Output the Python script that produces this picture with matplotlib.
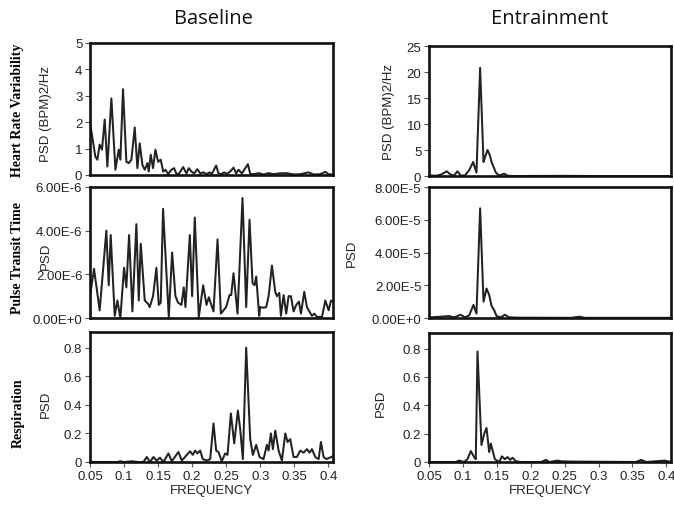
import matplotlib.pyplot as plt
from matplotlib.ticker import FuncFormatter

# ---- Baseline: heart rate variability, PSD (BPM)2/Hz
base_hrv_f = [0.0500, 0.0578, 0.0608, 0.0642, 0.0676, 0.0716, 0.0755, 0.0814, 0.0873, 0.0922,
              0.0946, 0.0985, 0.1034, 0.1069, 0.1108, 0.1157, 0.1196, 0.1230, 0.1270, 0.1304,
              0.1343, 0.1363, 0.1392, 0.1426, 0.1461, 0.1500, 0.1539, 0.1574, 0.1608, 0.1647,
              0.1696, 0.1735, 0.1770, 0.1804, 0.1868, 0.1917, 0.1951, 0.1990, 0.2029, 0.2078,
              0.2118, 0.2167, 0.2216, 0.2255, 0.2289, 0.2353, 0.2387, 0.2422, 0.2471, 0.2510,
              0.2559, 0.2608, 0.2647, 0.2682, 0.2730, 0.2819, 0.2853, 0.2902, 0.2976, 0.3049,
              0.3123, 0.3196, 0.3270, 0.3392, 0.3490, 0.3588, 0.3711, 0.3784, 0.3882, 0.3956,
              0.4005, 0.4069]
base_hrv = [2.0, 0.7, 0.58, 1.15, 0.96, 2.1, 0.32, 2.9, 0.2, 0.96,
            0.58, 3.25, 0.5, 0.45, 0.58, 1.8, 0.26, 1.2, 0.38, 0.2,
            0.45, 0.13, 0.77, 0.26, 0.96, 0.5, 0.58, 0.13, 0.2, 0.04,
            0.2, 0.26, 0.04, 0.04, 0.3, 0.06, 0.26, 0.13, 0.06, 0.22,
            0.06, 0.1, 0.03, 0.1, 0.04, 0.36, 0.06, 0.03, 0.1, 0.04,
            0.13, 0.28, 0.06, 0.2, 0.06, 0.41, 0.04, 0.03, 0.07, 0.02,
            0.07, 0.03, 0.06, 0.07, 0.02, 0.03, 0.1, 0.02, 0.03, 0.12,
            0.03, 0.02]

# ---- Baseline: pulse transit time, PSD in units of 1E-6
base_ptt_f = [0.0500, 0.0559, 0.0642, 0.0740, 0.0775, 0.0804, 0.0863, 0.0902, 0.0946, 0.1000,
              0.1034, 0.1074, 0.1123, 0.1181, 0.1216, 0.1245, 0.1304, 0.1353, 0.1377, 0.1426,
              0.1475, 0.1510, 0.1539, 0.1573, 0.1657, 0.1706, 0.1755, 0.1794, 0.1843, 0.1877,
              0.1902, 0.1966, 0.2000, 0.2039, 0.2098, 0.2162, 0.2211, 0.2245, 0.2314, 0.2373,
              0.2422, 0.2461, 0.2500, 0.2549, 0.2574, 0.2608, 0.2667, 0.2740, 0.2794, 0.2843,
              0.2887, 0.2917, 0.2941, 0.2985, 0.3000, 0.3049, 0.3088, 0.3123, 0.3172, 0.3221,
              0.3245, 0.3280, 0.3304, 0.3343, 0.3382, 0.3417, 0.3451, 0.3490, 0.3529, 0.3569,
              0.3598, 0.3647, 0.3686, 0.3721, 0.3760, 0.3794, 0.3833, 0.3882, 0.3907, 0.3956,
              0.4005, 0.4039, 0.4069]
base_ptt = [1.0, 2.25, 0.35, 4.0, 1.5, 3.8, 0.1, 0.8, 0.0, 2.3,
            1.4, 3.8, 0.3, 4.3, 0.8, 3.4, 0.8, 0.65, 0.5, 1.0,
            2.3, 0.6, 0.7, 5.0, 0.05, 3.0, 1.0, 0.7, 0.6, 1.4,
            0.5, 3.8, 1.0, 4.6, 0.05, 1.5, 0.6, 0.95, 0.3, 3.6,
            0.2, 0.35, 0.5, 1.05, 1.05, 2.05, 0.2, 5.5, 0.5, 4.5,
            1.6, 1.5, 1.9, 0.1, 0.5, 0.47, 0.5, 1.0, 2.4, 1.2,
            1.0, 1.15, 0.1, 1.05, 0.2, 1.0, 1.0, 0.3, 0.6, 0.75,
            0.2, 1.2, 0.5, 0.3, 0.1, 0.2, 0.05, 0.05, 0.05, 0.8,
            0.35, 0.8, 0.75]

# ---- Baseline: respiration, PSD
base_resp_f = [0.0500, 0.0900, 0.0941, 0.1000, 0.1113, 0.1200, 0.1284, 0.1333, 0.1382, 0.1431,
               0.1480, 0.1529, 0.1578, 0.1652, 0.1701, 0.1799, 0.1848, 0.1922, 0.1971, 0.2010,
               0.2044, 0.2078, 0.2118, 0.2157, 0.2216, 0.2265, 0.2314, 0.2353, 0.2387, 0.2436,
               0.2485, 0.2520, 0.2569, 0.2618, 0.2672, 0.2706, 0.2745, 0.2794, 0.2853, 0.2892,
               0.2941, 0.2990, 0.3049, 0.3098, 0.3123, 0.3157, 0.3186, 0.3221, 0.3270, 0.3319,
               0.3368, 0.3402, 0.3441, 0.3490, 0.3539, 0.3588, 0.3637, 0.3686, 0.3725, 0.3760,
               0.3809, 0.3858, 0.3892, 0.3931, 0.3971, 0.4069]
base_resp = [0.0, 0.0, 0.005, 0.0, 0.005, 0.0, 0.0, 0.035, 0.0, 0.035,
             0.01, 0.03, 0.0, 0.06, 0.005, 0.07, 0.01, 0.05, 0.075, 0.05,
             0.08, 0.06, 0.08, 0.02, 0.01, 0.02, 0.27, 0.08, 0.07, 0.005,
             0.06, 0.05, 0.34, 0.13, 0.36, 0.23, 0.02, 0.8, 0.16, 0.05,
             0.12, 0.035, 0.02, 0.12, 0.08, 0.2, 0.09, 0.22, 0.08, 0.01,
             0.2, 0.14, 0.16, 0.035, 0.035, 0.08, 0.065, 0.09, 0.065, 0.09,
             0.035, 0.02, 0.14, 0.035, 0.02, 0.04]

# ---- Entrainment: heart rate variability
ent_hrv_f = [0.0500, 0.0525, 0.0600, 0.0673, 0.0761, 0.0821, 0.0870, 0.0919, 0.0968, 0.1028,
             0.1092, 0.1151, 0.1200, 0.1254, 0.1304, 0.1328, 0.1363, 0.1397, 0.1422, 0.1452,
             0.1486, 0.1536, 0.1609, 0.1659, 0.1757, 0.2500, 0.3000, 0.4069]
ent_hrv = [0.05, 0.1, 0.05, 0.25, 0.9, 0.25, 0.1, 0.9, 0.1, 0.1,
           1.1, 2.7, 0.65, 20.8, 2.7, 3.7, 5.0, 4.0, 2.7, 1.75,
           0.65, 0.1, 0.45, 0.05, 0.0, 0.03, 0.0, 0.0]

# ---- Entrainment: pulse transit time, PSD in units of 1E-5
ent_ptt_f = [0.0500, 0.0525, 0.0673, 0.0796, 0.0870, 0.0968, 0.1028, 0.1092, 0.1156, 0.1200,
             0.1254, 0.1304, 0.1348, 0.1388, 0.1422, 0.1462, 0.1496, 0.1560, 0.1619, 0.1683,
             0.1807, 0.2600, 0.2719, 0.2800, 0.4069]
ent_ptt = [0.02, 0.04, 0.08, 0.12, 0.04, 0.2, 0.04, 0.16, 0.8, 0.27,
           6.7, 1.0, 1.8, 1.4, 0.75, 0.47, 0.12, 0.04, 0.2, 0.04,
           0.02, 0.01, 0.08, 0.01, 0.01]

# ---- Entrainment: respiration
ent_resp_f = [0.0500, 0.0894, 0.0944, 0.1018, 0.1067, 0.1116, 0.1166, 0.1190, 0.1215, 0.1274,
              0.1314, 0.1348, 0.1388, 0.1412, 0.1471, 0.1536, 0.1575, 0.1619, 0.1659, 0.1698,
              0.1733, 0.1782, 0.1856, 0.2152, 0.2226, 0.2275, 0.2398, 0.2448, 0.2596, 0.3550,
              0.3631, 0.3700, 0.3976, 0.4069]
ent_resp = [0.0, 0.0, 0.01, 0.0, 0.02, 0.077, 0.035, 0.02, 0.78, 0.12,
            0.2, 0.24, 0.07, 0.13, 0.02, 0.0, 0.04, 0.02, 0.035, 0.015,
            0.03, 0.005, 0.0, 0.0, 0.015, 0.0, 0.01, 0.005, 0.003, 0.0,
            0.015, 0.0, 0.01, 0.0]

freq_ticks = [0.05, 0.1, 0.15, 0.2, 0.25, 0.3, 0.35, 0.4]
freq_labels = ['0.05', '0.1', '0.15', '0.2', '0.25', '0.3', '0.35', '0.4']
row_names = ['Heart Rate Variability', 'Pulse Transit Time', 'Respiration']

plt.rcParams['font.family'] = ['Liberation Sans', 'DejaVu Sans']

fig = plt.figure(figsize=(6.74, 5.10), dpi=100)

W, H = 674.0, 510.0
cols = [(90, 333), (429, 671)]
rows_l = [(44, 176), (188, 319), (333, 463)]
rows_r = [(47, 177), (188, 319), (334, 463)]


def make_ax(c, r):
    x0, x1 = cols[c]
    y0, y1 = (rows_l if c == 0 else rows_r)[r]
    return fig.add_axes([x0 / W, 1 - y1 / H, (x1 - x0) / W, (y1 - y0) / H])


def sci(v, pos, e):
    if v == 0:
        return '0.00E+0'
    return '%.2fE-%d' % (v / 10.0 ** (-e), e)


panels = [
    # col, row, f, y, scale, yticks, ylim, ylabel, label x (axes frac), label y
    (0, 0, base_hrv_f, base_hrv, 1, [0, 1, 2, 3, 4, 5], 5, 'PSD (BPM)2/Hz', -0.156, 0.47),
    (0, 1, base_ptt_f, base_ptt, 1e-6, [0, 2e-6, 4e-6, 6e-6], 6e-6, 'PSD', -0.158, 0.48),
    (0, 2, base_resp_f, base_resp, 1, [0, 0.2, 0.4, 0.6, 0.8], 0.91, 'PSD', -0.158, 0.45),
    (1, 0, ent_hrv_f, ent_hrv, 1, [0, 5, 10, 15, 20, 25], 25, 'PSD (BPM)2/Hz', -0.14, 0.5),
    (1, 1, ent_ptt_f, ent_ptt, 1e-5, [0, 2e-5, 4e-5, 6e-5, 8e-5], 8e-5, 'PSD', -0.293, 0.5),
    (1, 2, ent_resp_f, ent_resp, 1, [0, 0.2, 0.4, 0.6, 0.8], 0.91, 'PSD', -0.174, 0.46),
]

for c, r, f, y, scale, yt, ytop, ylab, lx, ly in panels:
    ax = make_ax(c, r)
    ax.plot(f, [v * scale for v in y], color='#222222', lw=1.45)
    ax.set_xlim(0.05, 0.4069)
    ax.set_ylim(0, ytop)
    ax.set_yticks(yt)
    if scale == 1e-6:
        ax.yaxis.set_major_formatter(FuncFormatter(lambda v, p: sci(v, p, 6)))
    elif scale == 1e-5:
        ax.yaxis.set_major_formatter(FuncFormatter(lambda v, p: sci(v, p, 5)))
    else:
        ax.yaxis.set_major_formatter(FuncFormatter(lambda v, p: '%g' % v))
    ax.set_xticks(freq_ticks)
    if r == 2:
        ax.set_xticklabels(freq_labels)
        ax.set_xlabel('FREQUENCY', fontsize=9.5, labelpad=2, color='#222222')
    else:
        ax.set_xticklabels([])
    ax.tick_params(axis='both', direction='out', labelsize=9.5, width=0.8,
                   length=3.5, pad=2, color='#555555', labelcolor='#222222')
    if r != 2:
        ax.tick_params(axis='x', length=0)
    for s in ax.spines.values():
        s.set_linewidth(1.9)
        s.set_color('#111111')
    ax.set_ylabel(ylab, fontsize=9.5, color='#222222')
    ax.yaxis.set_label_coords(lx, ly)

# column titles
fig.text(213 / W, 1 - 19 / H, 'Baseline', ha='center', va='center',
         fontsize=14.5, family=['Open Sans', 'DejaVu Sans'], color='#111111')
fig.text(550 / W, 1 - 19 / H, 'Entrainment', ha='center', va='center',
         fontsize=14.5, family=['Open Sans', 'DejaVu Sans'], color='#111111')

# row titles
for name, yc in zip(row_names, [110, 258, 413]):
    fig.text(18 / W, 1 - yc / H, name, rotation=90, ha='center', va='center',
             fontsize=10, fontweight='bold', family=['Liberation Serif', 'DejaVu Serif'])

fig.savefig('out.png', dpi=100)
